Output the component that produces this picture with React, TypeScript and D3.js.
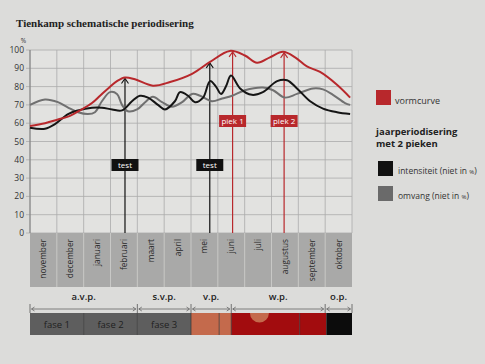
import React from 'react';
import * as d3 from 'd3';

const months = ['november', 'december', 'januari', 'februari', 'maart', 'april', 'mei', 'juni', 'juli', 'augustus', 'september', 'oktober'];
const yTicks = [0, 10, 20, 30, 40, 50, 60, 70, 80, 90, 100];

// [month position (0 = start november), value]
const vormcurve: [number, number][] = [
  [0, 58.5], [0.56, 60], [1.04, 62], [1.49, 64], [1.86, 67], [2.31, 71], [2.61, 75], [2.91, 79],
  [3.24, 83], [3.54, 85], [3.91, 84], [4.58, 80.5], [5.22, 82.5], [6.04, 87], [6.71, 93.5],
  [7.45, 99.5], [8.01, 97], [8.46, 93], [8.94, 96], [9.43, 99], [9.88, 96], [10.32, 91],
  [10.81, 88], [11.44, 81], [11.93, 74],
];
const intensiteit: [number, number][] = [
  [0, 57.5], [0.56, 57], [0.93, 59.5], [1.42, 65], [1.79, 67], [2.31, 68.5], [2.68, 68.5],
  [3.06, 67.5], [3.43, 67], [3.8, 72], [4.1, 75], [4.4, 74], [4.77, 70], [5.03, 67.5],
  [5.4, 72], [5.59, 77], [5.89, 75], [6.15, 71.5], [6.45, 74], [6.71, 83], [6.93, 80],
  [7.12, 76], [7.3, 80], [7.49, 86], [7.83, 79], [8.27, 75.5], [8.68, 77], [9.21, 83],
  [9.58, 83.5], [9.95, 79], [10.44, 72], [10.92, 68], [11.44, 66], [11.93, 65],
];
const omvang: [number, number][] = [
  [0, 70], [0.56, 73], [1.04, 71.5], [1.42, 68.5], [1.79, 66], [2.16, 65], [2.42, 66],
  [2.68, 72], [2.98, 77], [3.24, 76], [3.43, 70], [3.65, 66.5], [3.99, 67.5], [4.29, 71.5],
  [4.58, 74.5], [4.92, 71.5], [5.29, 69], [5.67, 71.5], [6.04, 76], [6.34, 75], [6.78, 72],
  [7.16, 73.5], [7.53, 75], [8.01, 78], [8.68, 79.5], [9.06, 78], [9.5, 74], [9.95, 76],
  [10.55, 79], [10.92, 78.5], [11.29, 75.5], [11.74, 71], [11.93, 70],
];

const markers = [
  { month: 3.54, value: 85, label: 'test', kind: 'test' },
  { month: 6.7, value: 93.5, label: 'test', kind: 'test' },
  { month: 7.55, value: 99.5, label: 'piek 1', kind: 'piek' },
  { month: 9.47, value: 99, label: 'piek 2', kind: 'piek' },
];

const phases = [
  { label: 'a.v.p.', from: 0, to: 4 },
  { label: 's.v.p.', from: 4, to: 6 },
  { label: 'v.p.', from: 6, to: 7.5 },
  { label: 'w.p.', from: 7.5, to: 11 },
  { label: 'o.p.', from: 11, to: 12 },
];
const blocks = [
  { label: 'fase 1', from: 0, to: 2, color: '#5e5e5e' },
  { label: 'fase 2', from: 2, to: 4, color: '#5e5e5e' },
  { label: 'fase 3', from: 4, to: 6, color: '#5e5e5e' },
  { label: '', from: 6, to: 7.05, color: '#c46a4c' },
  { label: '', from: 7.05, to: 7.5, color: '#c46a4c' },
  { label: '', from: 7.5, to: 10.05, color: '#a20c0e' },
  { label: '', from: 10.05, to: 11.05, color: '#a20c0e' },
  { label: '', from: 11.05, to: 12, color: '#0c0c0c' },
];
const bump = { month: 8.55 };

const legend = [
  { label: 'intensiteit (niet in ', color: '#111' },
  { label: 'omvang (niet in ', color: '#6a6a6a' },
];

const RED = '#b8282c';
const SANS = '"Open Sans", "Noto Sans", sans-serif';

export default function App() {
  const W = 485;
  const H = 364;
  const x = d3.scaleLinear().domain([0, 12]).range([30, 352]);
  const y = d3.scaleLinear().domain([0, 100]).range([233, 50]);
  const line = d3
    .line<[number, number]>()
    .x((d) => x(d[0]))
    .y((d) => y(d[1]))
    .curve(d3.curveCatmullRom.alpha(0.5));

  const bandTop = y(0);
  const bandBottom = 287;
  const barTop = 313;
  const barBottom = 335;
  const phaseLineY = 309;

  return (
    <svg width={W} height={H} style={{ position: 'fixed', left: 0, top: 0, display: 'block' }}>
      <rect width={W} height={H} fill="#dcdcda" />
      <text x={16} y={27} fontFamily='"Liberation Serif", serif' fontWeight="bold" fontSize={11} fill="#222">
        Tienkamp schematische periodisering
      </text>

      {/* plot area */}
      <rect x={x(0)} y={y(100)} width={x(12) - x(0)} height={y(0) - y(100)} fill="#e2e2e0" />
      {yTicks.map((t) => (
        <line key={'h' + t} x1={x(0) - 4} x2={x(12)} y1={y(t)} y2={y(t)} stroke="#ababab" strokeWidth={0.8} />
      ))}
      {d3.range(0, 13).map((i) => (
        <line key={'v' + i} x1={x(i)} x2={x(i)} y1={y(100)} y2={y(0)} stroke="#ababab" strokeWidth={0.8} />
      ))}
      <line x1={x(0)} x2={x(0)} y1={y(100)} y2={y(0)} stroke="#777" strokeWidth={0.9} />
      {yTicks.map((t) => (
        <text key={'yl' + t} x={x(0) - 6} y={y(t) + 3} textAnchor="end" fontFamily={SANS} fontSize={8.5} fill="#333">
          {t}
        </text>
      ))}
      <text x={x(0) - 4} y={y(100) - 7} textAnchor="end" fontFamily={SANS} fontSize={6.5} fill="#333">%</text>

      {/* month band */}
      <rect x={x(0)} y={bandTop} width={x(12) - x(0)} height={bandBottom - bandTop} fill="#a9a9a8" />
      {d3.range(1, 12).map((i) => (
        <line key={'bs' + i} x1={x(i)} x2={x(i)} y1={bandTop} y2={bandBottom} stroke="#c8c8c6" strokeWidth={1} />
      ))}
      {months.map((m, i) => (
        <text
          key={m}
          transform={`translate(${x(i + 0.5) + 3},${bandTop + 6}) rotate(-90)`}
          textAnchor="end"
          fontFamily={SANS}
          fontSize={8.3}
          fill="#2a2a2a"
        >
          {m}
        </text>
      ))}

      {/* marker arrows */}
      {markers.map((mk, i) => {
        const cx = x(mk.month);
        const top = y(mk.value) + 1;
        const col = mk.kind === 'piek' ? RED : '#111';
        return (
          <g key={'mk' + i}>
            <line x1={cx} x2={cx} y1={bandTop} y2={top} stroke={col} strokeWidth={1.2} />
            <path d={`M${cx - 3.5},${top + 5} L${cx},${top} L${cx + 3.5},${top + 5}`} fill="none" stroke={col} strokeWidth={1.1} />
          </g>
        );
      })}

      {/* curves */}
      <path d={line(omvang) || ''} fill="none" stroke="#707070" strokeWidth={2} />
      <path d={line(intensiteit) || ''} fill="none" stroke="#151515" strokeWidth={2} />
      <path d={line(vormcurve) || ''} fill="none" stroke={RED} strokeWidth={2} />

      {/* marker labels */}
      {markers.map((mk, i) => {
        const cx = x(mk.month);
        const isPiek = mk.kind === 'piek';
        const cy = isPiek ? 121 : 165;
        const w = 27;
        return (
          <g key={'ml' + i}>
            <rect x={cx - w / 2} y={cy - 6} width={w} height={12} fill={isPiek ? RED : '#111'} />
            <text x={cx} y={cy + 3} textAnchor="middle" fontFamily={SANS} fontSize={8} fill="#fff">
              {mk.label}
            </text>
          </g>
        );
      })}

      {/* phase labels + arrows */}
      {phases.map((p) => {
        const x1 = x(p.from) + 1.5;
        const x2 = x(p.to) - 1.5;
        return (
          <g key={p.label}>
            <text x={(x(p.from) + x(p.to)) / 2} y={phaseLineY - 9} textAnchor="middle" fontFamily={SANS} fontWeight="600" fontSize={9.5} fill="#222">
              {p.label}
            </text>
            <line x1={x1} x2={x2} y1={phaseLineY} y2={phaseLineY} stroke="#666" strokeWidth={0.8} />
            <path d={`M${x1 + 3},${phaseLineY - 2} L${x1},${phaseLineY} L${x1 + 3},${phaseLineY + 2}`} fill="none" stroke="#666" strokeWidth={0.8} />
            <path d={`M${x2 - 3},${phaseLineY - 2} L${x2},${phaseLineY} L${x2 - 3},${phaseLineY + 2}`} fill="none" stroke="#666" strokeWidth={0.8} />
          </g>
        );
      })}
      {d3.range(0, phases.length + 1).map((i) => {
        const v = i < phases.length ? phases[i].from : phases[phases.length - 1].to;
        return <line key={'pt' + i} x1={x(v)} x2={x(v)} y1={phaseLineY - 5} y2={barTop} stroke="#555" strokeWidth={0.8} />;
      })}

      {/* phase blocks */}
      {blocks.map((b, i) => (
        <g key={'b' + i}>
          <rect x={x(b.from)} y={barTop} width={x(b.to) - x(b.from)} height={barBottom - barTop} fill={b.color} />
          {i > 0 && <line x1={x(b.from)} x2={x(b.from)} y1={barTop} y2={barBottom} stroke="#333" strokeWidth={0.7} />}
          {b.label && (
            <text x={(x(b.from) + x(b.to)) / 2} y={(barTop + barBottom) / 2 + 3.5} textAnchor="middle" fontFamily={SANS} fontSize={9.5} fill="#1e1e1e">
              {b.label}
            </text>
          )}
        </g>
      ))}
      <path
        d={`M${x(bump.month) - 9.5},${barTop} A9.5,9.5 0 0 0 ${x(bump.month) + 9.5},${barTop} Z`}
        fill="#c46a4c"
      />

      {/* legend */}
      <rect x={376} y={90} width={15} height={15} fill={RED} />
      <text x={395} y={104} fontFamily={SANS} fontSize={9} fill="#333">vormcurve</text>
      <text x={376} y={135} fontFamily={SANS} fontWeight="bold" fontSize={9.5} fill="#222">jaarperiodisering</text>
      <text x={376} y={147} fontFamily={SANS} fontWeight="bold" fontSize={9.5} fill="#222">met 2 pieken</text>
      {legend.map((l, i) => (
        <g key={l.label}>
          <rect x={378} y={161 + i * 25} width={15} height={15} fill={l.color} />
          <text x={398} y={174 + i * 25} fontFamily={SANS} fontSize={8.5} fill="#333">
            {l.label}
            <tspan fontSize={6}>%</tspan>)
          </text>
        </g>
      ))}
    </svg>
  );
}
